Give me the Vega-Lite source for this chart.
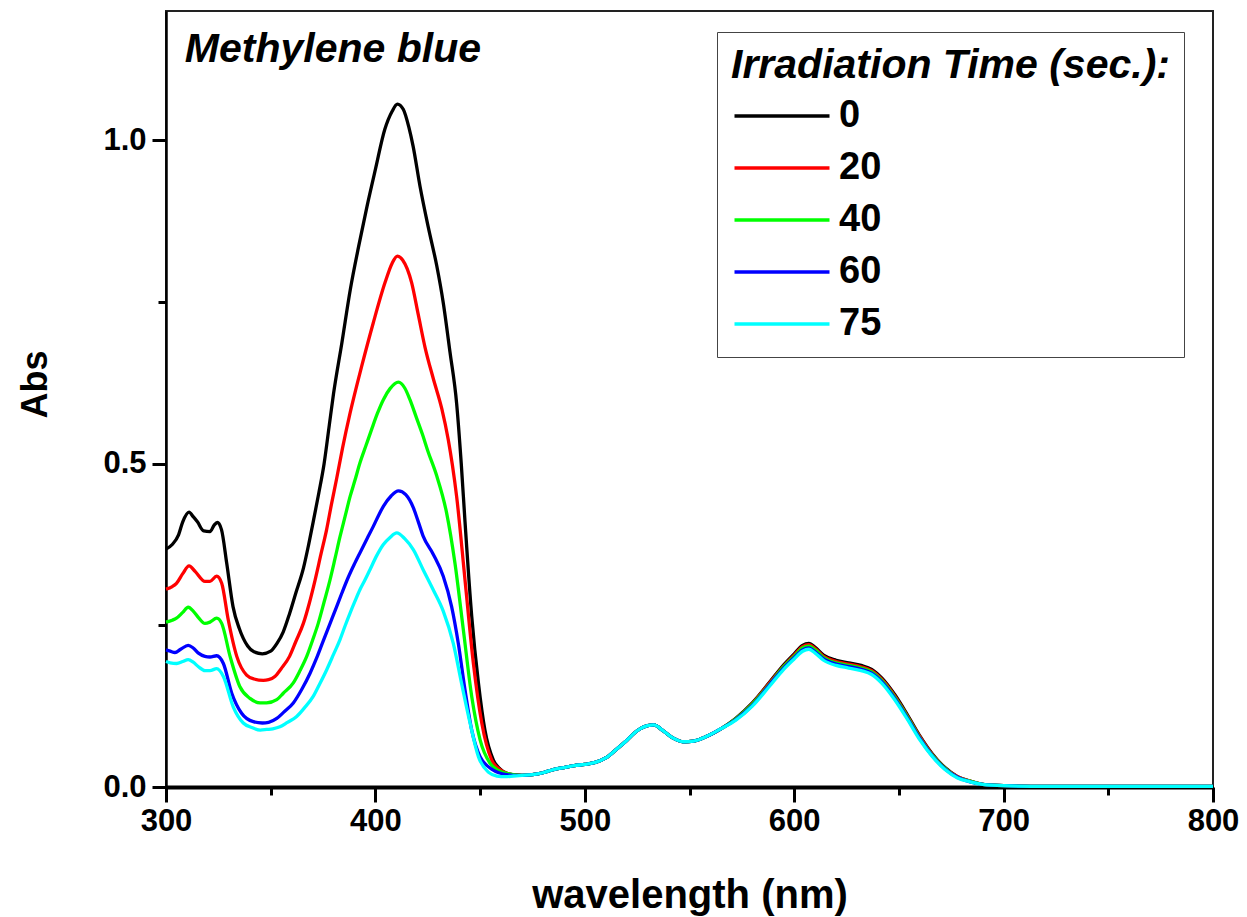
{
  "$schema": "https://vega.github.io/schema/vega-lite/v6.json",
  "autosize": {"type": "none"},
  "width": 1047,
  "height": 776,
  "padding": {"left": 166, "top": 11, "right": 34, "bottom": 130},
  "background": "white",
  "config": {
    "font": "Liberation Sans",
    "view": {"stroke": "#222222", "strokeWidth": 2},
    "axis": {"grid": false}
  },
  "resolve": {"scale": {"x": "independent", "y": "independent"}, "axis": {"x": "independent", "y": "independent"}},
  "layer": [
    {
      "data": {"values": [
        {"t":"0","w":300,"a":0.368},{"t":"0","w":303,"a":0.375},{"t":"0","w":306,"a":0.39},{"t":"0","w":308,"a":0.41},{"t":"0","w":311,"a":0.425},{"t":"0","w":313,"a":0.418},{"t":"0","w":315,"a":0.41},{"t":"0","w":318,"a":0.396},{"t":"0","w":321,"a":0.395},{"t":"0","w":323,"a":0.405},{"t":"0","w":324.5,"a":0.409},{"t":"0","w":326.5,"a":0.398},{"t":"0","w":329,"a":0.346},{"t":"0","w":332,"a":0.279},{"t":"0","w":335,"a":0.245},{"t":"0","w":339,"a":0.218},{"t":"0","w":342,"a":0.209},{"t":"0","w":346,"a":0.206},{"t":"0","w":350,"a":0.21},{"t":"0","w":353,"a":0.222},{"t":"0","w":356,"a":0.24},{"t":"0","w":359,"a":0.268},{"t":"0","w":362,"a":0.3},{"t":"0","w":365.6,"a":0.338},{"t":"0","w":368,"a":0.373},{"t":"0","w":370.3,"a":0.41},{"t":"0","w":373,"a":0.455},{"t":"0","w":375.5,"a":0.5},{"t":"0","w":378,"a":0.56},{"t":"0","w":380,"a":0.608},{"t":"0","w":384,"a":0.687},{"t":"0","w":388,"a":0.769},{"t":"0","w":392,"a":0.836},{"t":"0","w":396,"a":0.898},{"t":"0","w":400,"a":0.955},{"t":"0","w":404.5,"a":1.017},{"t":"0","w":408,"a":1.045},{"t":"0","w":410.5,"a":1.056},{"t":"0","w":413.3,"a":1.048},{"t":"0","w":416,"a":1.02},{"t":"0","w":418,"a":0.991},{"t":"0","w":421.3,"a":0.929},{"t":"0","w":425.3,"a":0.865},{"t":"0","w":429.3,"a":0.806},{"t":"0","w":432.4,"a":0.749},{"t":"0","w":435.6,"a":0.673},{"t":"0","w":438.8,"a":0.593},{"t":"0","w":441,"a":0.5},{"t":"0","w":442.8,"a":0.41},{"t":"0","w":446,"a":0.264},{"t":"0","w":449.2,"a":0.161},{"t":"0","w":452.3,"a":0.088},{"t":"0","w":456.3,"a":0.042},{"t":"0","w":459.5,"a":0.028},{"t":"0","w":462.7,"a":0.021},{"t":"0","w":466,"a":0.019},
        {"t":"0","w":470,"a":0.018},{"t":"0","w":475,"a":0.019},{"t":"0","w":480,"a":0.022},{"t":"0","w":485,"a":0.027},{"t":"0","w":490,"a":0.03},{"t":"0","w":495,"a":0.033},{"t":"0","w":500,"a":0.035},{"t":"0","w":505,"a":0.038},{"t":"0","w":510,"a":0.045},{"t":"0","w":515,"a":0.058},{"t":"0","w":520,"a":0.072},{"t":"0","w":525,"a":0.087},{"t":"0","w":530,"a":0.095},{"t":"0","w":533,"a":0.096},{"t":"0","w":537,"a":0.088},{"t":"0","w":542,"a":0.076},{"t":"0","w":547,"a":0.07},{"t":"0","w":552,"a":0.071},{"t":"0","w":558,"a":0.078},{"t":"0","w":565,"a":0.09},
        {"t":"0","w":572,"a":0.106},{"t":"0","w":580,"a":0.13},{"t":"0","w":588,"a":0.161},{"t":"0","w":595,"a":0.189},{"t":"0","w":600,"a":0.206},{"t":"0","w":604,"a":0.219},{"t":"0","w":607,"a":0.222},{"t":"0","w":610,"a":0.216},{"t":"0","w":614,"a":0.204},{"t":"0","w":620,"a":0.196},{"t":"0","w":626,"a":0.192},{"t":"0","w":632,"a":0.188},{"t":"0","w":637,"a":0.182},{"t":"0","w":642,"a":0.168},{"t":"0","w":648,"a":0.143},{"t":"0","w":654,"a":0.112},{"t":"0","w":660,"a":0.079},{"t":"0","w":666,"a":0.051},{"t":"0","w":672,"a":0.03},{"t":"0","w":678,"a":0.016},{"t":"0","w":684,"a":0.009},
        {"t":"0","w":690,"a":0.004},{"t":"0","w":700,"a":0.002},{"t":"0","w":720,"a":0.001},{"t":"0","w":750,"a":0.001},{"t":"0","w":780,"a":0.001},{"t":"0","w":800,"a":0.001},

        {"t":"20","w":300,"a":0.306},{"t":"20","w":303,"a":0.31},{"t":"20","w":305,"a":0.315},{"t":"20","w":308,"a":0.33},{"t":"20","w":311,"a":0.342},{"t":"20","w":314,"a":0.333},{"t":"20","w":318.6,"a":0.318},{"t":"20","w":321,"a":0.318},{"t":"20","w":324.2,"a":0.326},{"t":"20","w":326.6,"a":0.315},{"t":"20","w":329.7,"a":0.259},{"t":"20","w":333.8,"a":0.202},{"t":"20","w":338.5,"a":0.173},{"t":"20","w":342,"a":0.167},{"t":"20","w":346.5,"a":0.165},{"t":"20","w":349,"a":0.166},{"t":"20","w":352,"a":0.171},{"t":"20","w":355,"a":0.183},{"t":"20","w":359,"a":0.202},{"t":"20","w":362,"a":0.225},{"t":"20","w":365.6,"a":0.253},{"t":"20","w":368.5,"a":0.285},{"t":"20","w":371.2,"a":0.32},{"t":"20","w":374,"a":0.36},{"t":"20","w":376.7,"a":0.398},{"t":"20","w":379,"a":0.437},{"t":"20","w":381.5,"a":0.477},{"t":"20","w":384.3,"a":0.524},{"t":"20","w":387.9,"a":0.578},{"t":"20","w":393.4,"a":0.65},{"t":"20","w":399,"a":0.718},{"t":"20","w":404.6,"a":0.78},{"t":"20","w":408,"a":0.81},{"t":"20","w":410.5,"a":0.821},{"t":"20","w":413,"a":0.815},{"t":"20","w":417.3,"a":0.78},{"t":"20","w":420.5,"a":0.73},{"t":"20","w":423.7,"a":0.68},{"t":"20","w":427.6,"a":0.632},{"t":"20","w":431.7,"a":0.585},{"t":"20","w":434.8,"a":0.537},{"t":"20","w":436.8,"a":0.497},{"t":"20","w":438.8,"a":0.449},{"t":"20","w":442.8,"a":0.32},{"t":"20","w":446.8,"a":0.191},{"t":"20","w":450.8,"a":0.099},{"t":"20","w":455.5,"a":0.042},{"t":"20","w":459.5,"a":0.027},{"t":"20","w":462.7,"a":0.021},{"t":"20","w":466,"a":0.019},
        {"t":"20","w":470,"a":0.018},{"t":"20","w":475,"a":0.019},{"t":"20","w":480,"a":0.022},{"t":"20","w":485,"a":0.027},{"t":"20","w":490,"a":0.03},{"t":"20","w":495,"a":0.033},{"t":"20","w":500,"a":0.035},{"t":"20","w":505,"a":0.038},{"t":"20","w":510,"a":0.045},{"t":"20","w":515,"a":0.058},{"t":"20","w":520,"a":0.072},{"t":"20","w":525,"a":0.087},{"t":"20","w":530,"a":0.095},{"t":"20","w":533,"a":0.096},{"t":"20","w":537,"a":0.088},{"t":"20","w":542,"a":0.076},{"t":"20","w":547,"a":0.07},{"t":"20","w":552,"a":0.071},{"t":"20","w":558,"a":0.078},{"t":"20","w":565,"a":0.09},
        {"t":"20","w":572,"a":0.105},{"t":"20","w":580,"a":0.129},{"t":"20","w":588,"a":0.16},{"t":"20","w":595,"a":0.187},{"t":"20","w":600,"a":0.204},{"t":"20","w":604,"a":0.217},{"t":"20","w":607,"a":0.22},{"t":"20","w":610,"a":0.214},{"t":"20","w":614,"a":0.202},{"t":"20","w":620,"a":0.194},{"t":"20","w":626,"a":0.19},{"t":"20","w":632,"a":0.186},{"t":"20","w":637,"a":0.18},{"t":"20","w":642,"a":0.166},{"t":"20","w":648,"a":0.141},{"t":"20","w":654,"a":0.11},{"t":"20","w":660,"a":0.078},{"t":"20","w":666,"a":0.05},{"t":"20","w":672,"a":0.029},{"t":"20","w":678,"a":0.016},{"t":"20","w":684,"a":0.009},
        {"t":"20","w":690,"a":0.004},{"t":"20","w":700,"a":0.002},{"t":"20","w":720,"a":0.001},{"t":"20","w":750,"a":0.001},{"t":"20","w":780,"a":0.001},{"t":"20","w":800,"a":0.001},

        {"t":"40","w":300,"a":0.255},{"t":"40","w":303,"a":0.258},{"t":"40","w":305,"a":0.261},{"t":"40","w":308,"a":0.27},{"t":"40","w":310.6,"a":0.278},{"t":"40","w":313,"a":0.272},{"t":"40","w":315.5,"a":0.262},{"t":"40","w":318.6,"a":0.253},{"t":"40","w":321,"a":0.255},{"t":"40","w":324.2,"a":0.261},{"t":"40","w":326.6,"a":0.253},{"t":"40","w":330.6,"a":0.202},{"t":"40","w":335.3,"a":0.155},{"t":"40","w":340.1,"a":0.137},{"t":"40","w":344.9,"a":0.13},{"t":"40","w":348,"a":0.13},{"t":"40","w":352.9,"a":0.135},{"t":"40","w":356,"a":0.145},{"t":"40","w":360.8,"a":0.161},{"t":"40","w":364,"a":0.18},{"t":"40","w":367.2,"a":0.202},{"t":"40","w":370,"a":0.227},{"t":"40","w":372.7,"a":0.253},{"t":"40","w":375.5,"a":0.286},{"t":"40","w":378.3,"a":0.32},{"t":"40","w":380.7,"a":0.353},{"t":"40","w":383.1,"a":0.387},{"t":"40","w":385.5,"a":0.418},{"t":"40","w":387.9,"a":0.449},{"t":"40","w":390.3,"a":0.475},{"t":"40","w":392.6,"a":0.501},{"t":"40","w":395.5,"a":0.528},{"t":"40","w":398.2,"a":0.553},{"t":"40","w":401,"a":0.578},{"t":"40","w":403.8,"a":0.599},{"t":"40","w":407,"a":0.616},{"t":"40","w":411,"a":0.626},{"t":"40","w":414,"a":0.617},{"t":"40","w":416.5,"a":0.599},{"t":"40","w":419.5,"a":0.572},{"t":"40","w":422.5,"a":0.545},{"t":"40","w":425,"a":0.52},{"t":"40","w":429.2,"a":0.482},{"t":"40","w":434,"a":0.424},{"t":"40","w":438,"a":0.346},{"t":"40","w":442,"a":0.243},{"t":"40","w":446,"a":0.14},{"t":"40","w":450,"a":0.073},{"t":"40","w":454.7,"a":0.037},{"t":"40","w":458.5,"a":0.026},{"t":"40","w":462.7,"a":0.021},{"t":"40","w":466,"a":0.019},
        {"t":"40","w":470,"a":0.018},{"t":"40","w":475,"a":0.019},{"t":"40","w":480,"a":0.022},{"t":"40","w":485,"a":0.027},{"t":"40","w":490,"a":0.03},{"t":"40","w":495,"a":0.033},{"t":"40","w":500,"a":0.035},{"t":"40","w":505,"a":0.038},{"t":"40","w":510,"a":0.045},{"t":"40","w":515,"a":0.058},{"t":"40","w":520,"a":0.072},{"t":"40","w":525,"a":0.087},{"t":"40","w":530,"a":0.095},{"t":"40","w":533,"a":0.096},{"t":"40","w":537,"a":0.088},{"t":"40","w":542,"a":0.076},{"t":"40","w":547,"a":0.07},{"t":"40","w":552,"a":0.071},{"t":"40","w":558,"a":0.078},{"t":"40","w":565,"a":0.09},
        {"t":"40","w":572,"a":0.105},{"t":"40","w":580,"a":0.128},{"t":"40","w":588,"a":0.158},{"t":"40","w":595,"a":0.186},{"t":"40","w":600,"a":0.202},{"t":"40","w":604,"a":0.215},{"t":"40","w":607,"a":0.218},{"t":"40","w":610,"a":0.212},{"t":"40","w":614,"a":0.2},{"t":"40","w":620,"a":0.192},{"t":"40","w":626,"a":0.188},{"t":"40","w":632,"a":0.184},{"t":"40","w":637,"a":0.178},{"t":"40","w":642,"a":0.164},{"t":"40","w":648,"a":0.139},{"t":"40","w":654,"a":0.109},{"t":"40","w":660,"a":0.076},{"t":"40","w":666,"a":0.049},{"t":"40","w":672,"a":0.029},{"t":"40","w":678,"a":0.015},{"t":"40","w":684,"a":0.009},
        {"t":"40","w":690,"a":0.004},{"t":"40","w":700,"a":0.002},{"t":"40","w":720,"a":0.001},{"t":"40","w":750,"a":0.001},{"t":"40","w":780,"a":0.001},{"t":"40","w":800,"a":0.001},

        {"t":"60","w":300,"a":0.212},{"t":"60","w":302,"a":0.21},{"t":"60","w":304.3,"a":0.208},{"t":"60","w":307,"a":0.213},{"t":"60","w":310.6,"a":0.219},{"t":"60","w":313,"a":0.215},{"t":"60","w":315.5,"a":0.207},{"t":"60","w":318.6,"a":0.202},{"t":"60","w":321,"a":0.201},{"t":"60","w":324.2,"a":0.203},{"t":"60","w":327.4,"a":0.191},{"t":"60","w":331.4,"a":0.145},{"t":"60","w":336.1,"a":0.114},{"t":"60","w":341.7,"a":0.101},{"t":"60","w":346,"a":0.099},{"t":"60","w":349,"a":0.1},{"t":"60","w":352.9,"a":0.106},{"t":"60","w":356,"a":0.115},{"t":"60","w":360.8,"a":0.13},{"t":"60","w":365,"a":0.152},{"t":"60","w":368.8,"a":0.176},{"t":"60","w":372,"a":0.2},{"t":"60","w":375.1,"a":0.226},{"t":"60","w":378,"a":0.25},{"t":"60","w":381.5,"a":0.279},{"t":"60","w":384,"a":0.3},{"t":"60","w":387,"a":0.324},{"t":"60","w":390,"a":0.345},{"t":"60","w":392.6,"a":0.362},{"t":"60","w":396,"a":0.384},{"t":"60","w":399,"a":0.403},{"t":"60","w":401.5,"a":0.42},{"t":"60","w":403.8,"a":0.434},{"t":"60","w":407.5,"a":0.45},{"t":"60","w":411,"a":0.458},{"t":"60","w":414.5,"a":0.452},{"t":"60","w":418.1,"a":0.432},{"t":"60","w":420.5,"a":0.41},{"t":"60","w":422.8,"a":0.388},{"t":"60","w":427.6,"a":0.36},{"t":"60","w":432.4,"a":0.326},{"t":"60","w":436.4,"a":0.279},{"t":"60","w":439.6,"a":0.222},{"t":"60","w":442.8,"a":0.15},{"t":"60","w":446,"a":0.088},{"t":"60","w":450,"a":0.047},{"t":"60","w":456.3,"a":0.026},{"t":"60","w":462.7,"a":0.019},{"t":"60","w":466,"a":0.018},
        {"t":"60","w":470,"a":0.018},{"t":"60","w":475,"a":0.019},{"t":"60","w":480,"a":0.022},{"t":"60","w":485,"a":0.027},{"t":"60","w":490,"a":0.03},{"t":"60","w":495,"a":0.033},{"t":"60","w":500,"a":0.035},{"t":"60","w":505,"a":0.038},{"t":"60","w":510,"a":0.045},{"t":"60","w":515,"a":0.058},{"t":"60","w":520,"a":0.072},{"t":"60","w":525,"a":0.087},{"t":"60","w":530,"a":0.095},{"t":"60","w":533,"a":0.096},{"t":"60","w":537,"a":0.088},{"t":"60","w":542,"a":0.076},{"t":"60","w":547,"a":0.07},{"t":"60","w":552,"a":0.071},{"t":"60","w":558,"a":0.078},{"t":"60","w":565,"a":0.09},
        {"t":"60","w":572,"a":0.104},{"t":"60","w":580,"a":0.126},{"t":"60","w":588,"a":0.157},{"t":"60","w":595,"a":0.184},{"t":"60","w":600,"a":0.2},{"t":"60","w":604,"a":0.212},{"t":"60","w":607,"a":0.215},{"t":"60","w":610,"a":0.209},{"t":"60","w":614,"a":0.198},{"t":"60","w":620,"a":0.19},{"t":"60","w":626,"a":0.186},{"t":"60","w":632,"a":0.182},{"t":"60","w":637,"a":0.176},{"t":"60","w":642,"a":0.162},{"t":"60","w":648,"a":0.137},{"t":"60","w":654,"a":0.107},{"t":"60","w":660,"a":0.075},{"t":"60","w":666,"a":0.048},{"t":"60","w":672,"a":0.028},{"t":"60","w":678,"a":0.015},{"t":"60","w":684,"a":0.008},
        {"t":"60","w":690,"a":0.004},{"t":"60","w":700,"a":0.002},{"t":"60","w":720,"a":0.001},{"t":"60","w":750,"a":0.001},{"t":"60","w":780,"a":0.001},{"t":"60","w":800,"a":0.001},

        {"t":"75","w":300,"a":0.194},{"t":"75","w":302,"a":0.192},{"t":"75","w":305.1,"a":0.191},{"t":"75","w":308,"a":0.194},{"t":"75","w":310.6,"a":0.197},{"t":"75","w":313,"a":0.193},{"t":"75","w":315.5,"a":0.186},{"t":"75","w":318.6,"a":0.18},{"t":"75","w":321,"a":0.18},{"t":"75","w":324.2,"a":0.183},{"t":"75","w":327.4,"a":0.171},{"t":"75","w":332.1,"a":0.124},{"t":"75","w":336.9,"a":0.099},{"t":"75","w":341,"a":0.092},{"t":"75","w":345,"a":0.088},{"t":"75","w":348.1,"a":0.089},{"t":"75","w":351,"a":0.09},{"t":"75","w":354.4,"a":0.093},{"t":"75","w":358,"a":0.1},{"t":"75","w":362.4,"a":0.109},{"t":"75","w":366,"a":0.122},{"t":"75","w":370.3,"a":0.14},{"t":"75","w":373.5,"a":0.16},{"t":"75","w":376.7,"a":0.181},{"t":"75","w":380,"a":0.205},{"t":"75","w":383.1,"a":0.228},{"t":"75","w":385.5,"a":0.249},{"t":"75","w":387.9,"a":0.269},{"t":"75","w":390.2,"a":0.287},{"t":"75","w":392.6,"a":0.305},{"t":"75","w":395,"a":0.32},{"t":"75","w":397.4,"a":0.336},{"t":"75","w":400.5,"a":0.357},{"t":"75","w":403.8,"a":0.375},{"t":"75","w":407,"a":0.386},{"t":"75","w":410.2,"a":0.393},{"t":"75","w":414,"a":0.384},{"t":"75","w":418.1,"a":0.367},{"t":"75","w":422.8,"a":0.336},{"t":"75","w":427.6,"a":0.305},{"t":"75","w":432.4,"a":0.272},{"t":"75","w":437.2,"a":0.222},{"t":"75","w":441.1,"a":0.161},{"t":"75","w":445.2,"a":0.099},{"t":"75","w":449.2,"a":0.047},{"t":"75","w":453.9,"a":0.023},{"t":"75","w":458,"a":0.017},{"t":"75","w":462,"a":0.016},{"t":"75","w":466,"a":0.017},
        {"t":"75","w":470,"a":0.018},{"t":"75","w":475,"a":0.019},{"t":"75","w":480,"a":0.022},{"t":"75","w":485,"a":0.027},{"t":"75","w":490,"a":0.03},{"t":"75","w":495,"a":0.033},{"t":"75","w":500,"a":0.035},{"t":"75","w":505,"a":0.038},{"t":"75","w":510,"a":0.045},{"t":"75","w":515,"a":0.058},{"t":"75","w":520,"a":0.072},{"t":"75","w":525,"a":0.087},{"t":"75","w":530,"a":0.095},{"t":"75","w":533,"a":0.096},{"t":"75","w":537,"a":0.088},{"t":"75","w":542,"a":0.076},{"t":"75","w":547,"a":0.07},{"t":"75","w":552,"a":0.071},{"t":"75","w":558,"a":0.078},{"t":"75","w":565,"a":0.09},
        {"t":"75","w":572,"a":0.103},{"t":"75","w":580,"a":0.125},{"t":"75","w":588,"a":0.155},{"t":"75","w":595,"a":0.182},{"t":"75","w":600,"a":0.198},{"t":"75","w":604,"a":0.21},{"t":"75","w":607,"a":0.213},{"t":"75","w":610,"a":0.207},{"t":"75","w":614,"a":0.196},{"t":"75","w":620,"a":0.188},{"t":"75","w":626,"a":0.184},{"t":"75","w":632,"a":0.18},{"t":"75","w":637,"a":0.174},{"t":"75","w":642,"a":0.16},{"t":"75","w":648,"a":0.135},{"t":"75","w":654,"a":0.105},{"t":"75","w":660,"a":0.073},{"t":"75","w":666,"a":0.047},{"t":"75","w":672,"a":0.027},{"t":"75","w":678,"a":0.014},{"t":"75","w":684,"a":0.008},
        {"t":"75","w":690,"a":0.004},{"t":"75","w":700,"a":0.002},{"t":"75","w":720,"a":0.001},{"t":"75","w":750,"a":0.001},{"t":"75","w":780,"a":0.001},{"t":"75","w":800,"a":0.001}
      ]},
      "mark": {"type": "line", "strokeWidth": 3.3, "interpolate": "monotone"},
      "encoding": {
        "x": {
          "field": "w", "type": "quantitative",
          "scale": {"domain": [300, 800], "nice": false, "zero": false},
          "axis": {
            "orient": "bottom", "values": [300, 400, 500, 600, 700, 800], "format": "d",
            "title": "wavelength (nm)", "titleFontSize": 40, "titleFontWeight": "bold", "titleColor": "black",
            "titleBaseline": "alphabetic", "titleY": 120,
            "labelFontSize": 31, "labelFontWeight": "bold", "labelColor": "black", "labelPadding": 4, "labelFlush": false,
            "tickSize": 15, "tickWidth": 3, "tickColor": "black",
            "domainColor": "black", "domainWidth": 4
          }
        },
        "y": {
          "field": "a", "type": "quantitative",
          "scale": {"domain": [0, 1.2], "nice": false, "zero": false},
          "axis": {
            "orient": "left", "values": [0, 0.5, 1.0], "format": ".1f",
            "title": "Abs", "titleFontSize": 36, "titleFontWeight": "bold", "titleColor": "black",
            "titleAngle": -90, "titleBaseline": "alphabetic", "titleAlign": "center", "titleX": -120, "titleY": 373,
            "labelFontSize": 31, "labelFontWeight": "bold", "labelColor": "black", "labelPadding": 6, "labelFlush": false,
            "tickSize": 14, "tickWidth": 3, "tickColor": "black",
            "domainColor": "black", "domainWidth": 2.5
          }
        },
        "color": {
          "field": "t", "type": "nominal",
          "scale": {"domain": ["0", "20", "40", "60", "75"], "range": ["#000000", "#ff0000", "#00ff00", "#0000ff", "#00ffff"]},
          "legend": {
            "orient": "none", "legendX": 551, "legendY": 21,
            "title": "Irradiation Time (sec.):", "titleLimit": 800, "titleFontSize": 41, "titleFontWeight": "bold", "titleFontStyle": "italic", "titleColor": "black", "titlePadding": 10,
            "labelFontSize": 38, "labelFontWeight": "bold", "labelColor": "black", "labelOffset": 38, "labelLimit": 300,
            "symbolType": "M-4,0H4", "symbolSize": 564, "symbolStrokeWidth": 3.3, "symbolOffset": 32,
            "strokeColor": "#444444", "padding": 14, "rowPadding": 14, "fillColor": "white"
          }
        }
      }
    },
    {
      "data": {"values": [{"label": "Methylene blue", "w": 309, "a": 1.121}]},
      "mark": {"type": "text", "align": "left", "baseline": "alphabetic", "fontSize": 41, "fontWeight": "bold", "fontStyle": "italic", "color": "black"},
      "encoding": {
        "text": {"field": "label"},
        "x": {
          "field": "w", "type": "quantitative",
          "scale": {"domain": [300, 800], "nice": false, "zero": false},
          "axis": {"orient": "bottom", "values": [350, 450, 550, 650, 750], "labels": false, "title": null, "domain": false, "tickSize": 8, "tickWidth": 3, "tickColor": "black"}
        },
        "y": {
          "field": "a", "type": "quantitative",
          "scale": {"domain": [0, 1.2], "nice": false, "zero": false},
          "axis": {"orient": "left", "values": [0.25, 0.75], "labels": false, "title": null, "domain": false, "tickSize": 8, "tickWidth": 3, "tickColor": "black"}
        }
      }
    }
  ]
}
